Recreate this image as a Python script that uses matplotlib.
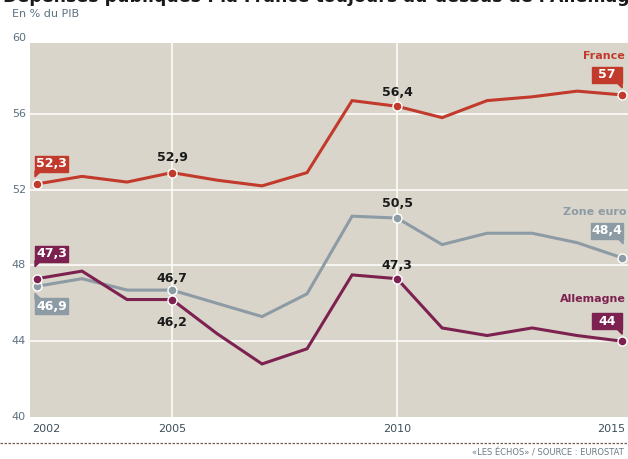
import matplotlib
matplotlib.use('Agg')
import matplotlib.pyplot as plt
import matplotlib.transforms as mtransforms
from matplotlib.patches import Rectangle, Polygon

plt.rcParams['font.family'] = ['DejaVu Sans']

# valeurs (en % du PIB)
years = list(range(2002, 2016))
france = [52.3, 52.7, 52.4, 52.9, 52.5, 52.2, 52.9, 56.7, 56.4, 55.8, 56.7, 56.9, 57.2, 57.0]
zone_euro = [46.9, 47.3, 46.7, 46.7, 46.0, 45.3, 46.5, 50.6, 50.5, 49.1, 49.7, 49.7, 49.2, 48.4]
allemagne = [47.3, 47.7, 46.2, 46.2, 44.4, 42.8, 43.6, 47.5, 47.3, 44.7, 44.3, 44.7, 44.3, 44.0]

marked_years = [2002, 2005, 2010, 2015]
y_ticks = [40, 44, 48, 52, 56, 60]
x_ticks = [2002, 2005, 2010, 2015]

BG = '#d9d5ca'
C_FR = '#c23a2b'
C_ZE = '#8d9ba5'
C_DE = '#7c2150'
C_TICK = '#5b7180'

fig = plt.figure(figsize=(6.28, 4.59), dpi=100)
ax = fig.add_axes([30 / 628, 1 - 417 / 459, 598 / 628, 374 / 459])
ax.set_facecolor(BG)
ax.set_xlim(2001.845, 2015.13)
ax.set_ylim(40, 59.74)
for s in ax.spines.values():
    s.set_visible(False)
ax.set_xticks([])
ax.set_yticks([])

for v in [44, 48, 52, 56]:
    ax.axhline(v, color='white', lw=1.1, zorder=1)
for v in [2005, 2010]:
    ax.axvline(v, color='white', lw=1.1, zorder=1)

for vals, col in [(zone_euro, C_ZE), (allemagne, C_DE), (france, C_FR)]:
    ax.plot(years, vals, color=col, lw=2.2, zorder=3, solid_joinstyle='miter')
    mv = [vals[years.index(y)] for y in marked_years]
    ax.plot(marked_years, mv, 'o', color=col, ms=6.5, mec='white', mew=1.0, zorder=4)

# graduations
ident = mtransforms.IdentityTransform()
ybt = mtransforms.blended_transform_factory(ax.transAxes, ax.transData)
for v in y_ticks:
    ax.text(-0.007, v, str(v), transform=ybt, ha='right', va='center',
            fontsize=8, color=C_TICK, clip_on=False)
xbt = mtransforms.blended_transform_factory(ax.transData, ax.transAxes)
for v in x_ticks:
    ha = 'center'
    xp = v
    if v == x_ticks[0]:
        ha, xp = 'left', 2001.89
    elif v == x_ticks[-1]:
        ha, xp = 'right', 2015.07
    ax.text(xp, -0.032, str(v), transform=xbt, ha=ha, va='center',
            fontsize=8, color='#3f4f5a', clip_on=False)


def val(series, year):
    return series[years.index(year)]


def tag(year, series, color, dx, dy, w, h, tail):
    y = val(series, year)
    px, py = ax.transData.transform((year, y))
    x0, y0 = px + dx, py + dy
    ax.add_patch(Rectangle((x0, y0), w, h, transform=ident, color=color,
                           clip_on=False, zorder=5))
    if tail == 'bl':
        pts = [(x0, y0 + 1), (x0 + 6, y0 + 1), (x0, y0 - 5)]
    elif tail == 'br':
        pts = [(x0 + w, y0 + 1), (x0 + w - 6, y0 + 1), (x0 + w, y0 - 5)]
    else:
        pts = [(x0, y0 + h - 1), (x0 + 6, y0 + h - 1), (x0, y0 + h + 5)]
    ax.add_patch(Polygon(pts, closed=True, transform=ident, color=color,
                         clip_on=False, zorder=5))
    txt = f'{y:g}'.replace('.', ',')
    ax.text(x0 + w / 2, y0 + h / 2, txt, transform=ident, ha='center',
            va='center', color='white', fontsize=9, fontweight='bold', zorder=6)


def plain(year, series, off):
    y = val(series, year)
    txt = f'{y:g}'.replace('.', ',')
    ax.annotate(txt, (year, y), xytext=(0, off), textcoords='offset pixels',
                ha='center', va='center', fontsize=9, fontweight='bold',
                color='#1a1a1a', zorder=6)


tag(2002, france, C_FR, -2, 12, 33, 16, 'bl')
tag(2002, allemagne, C_DE, -2, 17, 33, 16, 'bl')
tag(2002, zone_euro, C_ZE, -2, -28, 33, 16, 'tl')
tag(2015, france, C_FR, -30, 12, 30, 16, 'br')
tag(2015, zone_euro, C_ZE, -31, 19, 32, 16, 'br')
tag(2015, allemagne, C_DE, -30, 12, 30, 16, 'br')

plain(2005, france, 15)
plain(2005, zone_euro, 12)
plain(2005, allemagne, -23)
plain(2010, france, 14)
plain(2010, zone_euro, 15)
plain(2010, allemagne, 13)

ax.text(2015.06, 59.05, 'France', ha='right', va='center', fontsize=8,
        fontweight='bold', color=C_FR)
ax.text(2015.09, 50.84, 'Zone euro', ha='right', va='center', fontsize=8,
        fontweight='bold', color=C_ZE)
ax.text(2015.09, 46.21, 'Allemagne', ha='right', va='center', fontsize=8,
        fontweight='bold', color=C_DE)

# titre (coupé en haut de l'image), sous-titre, source
fig.text(0.004, 1 - 1.5 / 459,
         "Dépenses publiques : la France toujours au-dessus de l'Allemagne et de la zone euro",
         ha='left', va='baseline', fontsize=12.5, fontweight='bold', color='#1a1a1a')
fig.text(12 / 628, 1 - 14 / 459, 'En % du PIB', ha='left', va='center',
         fontsize=8, color=C_TICK)
fig.add_artist(plt.Line2D([0, 1], [1 - 443 / 459] * 2, transform=fig.transFigure,
                          color='#7a5a55', lw=0.9, dashes=(2, 1.2)))
fig.text(472 / 628, 1 - 453 / 459, '«LES ÉCHOS» / SOURCE : EUROSTAT', ha='left',
         va='center', fontsize=6, color='#6b7b86')

fig.savefig('out.png', dpi=100, facecolor='white')
